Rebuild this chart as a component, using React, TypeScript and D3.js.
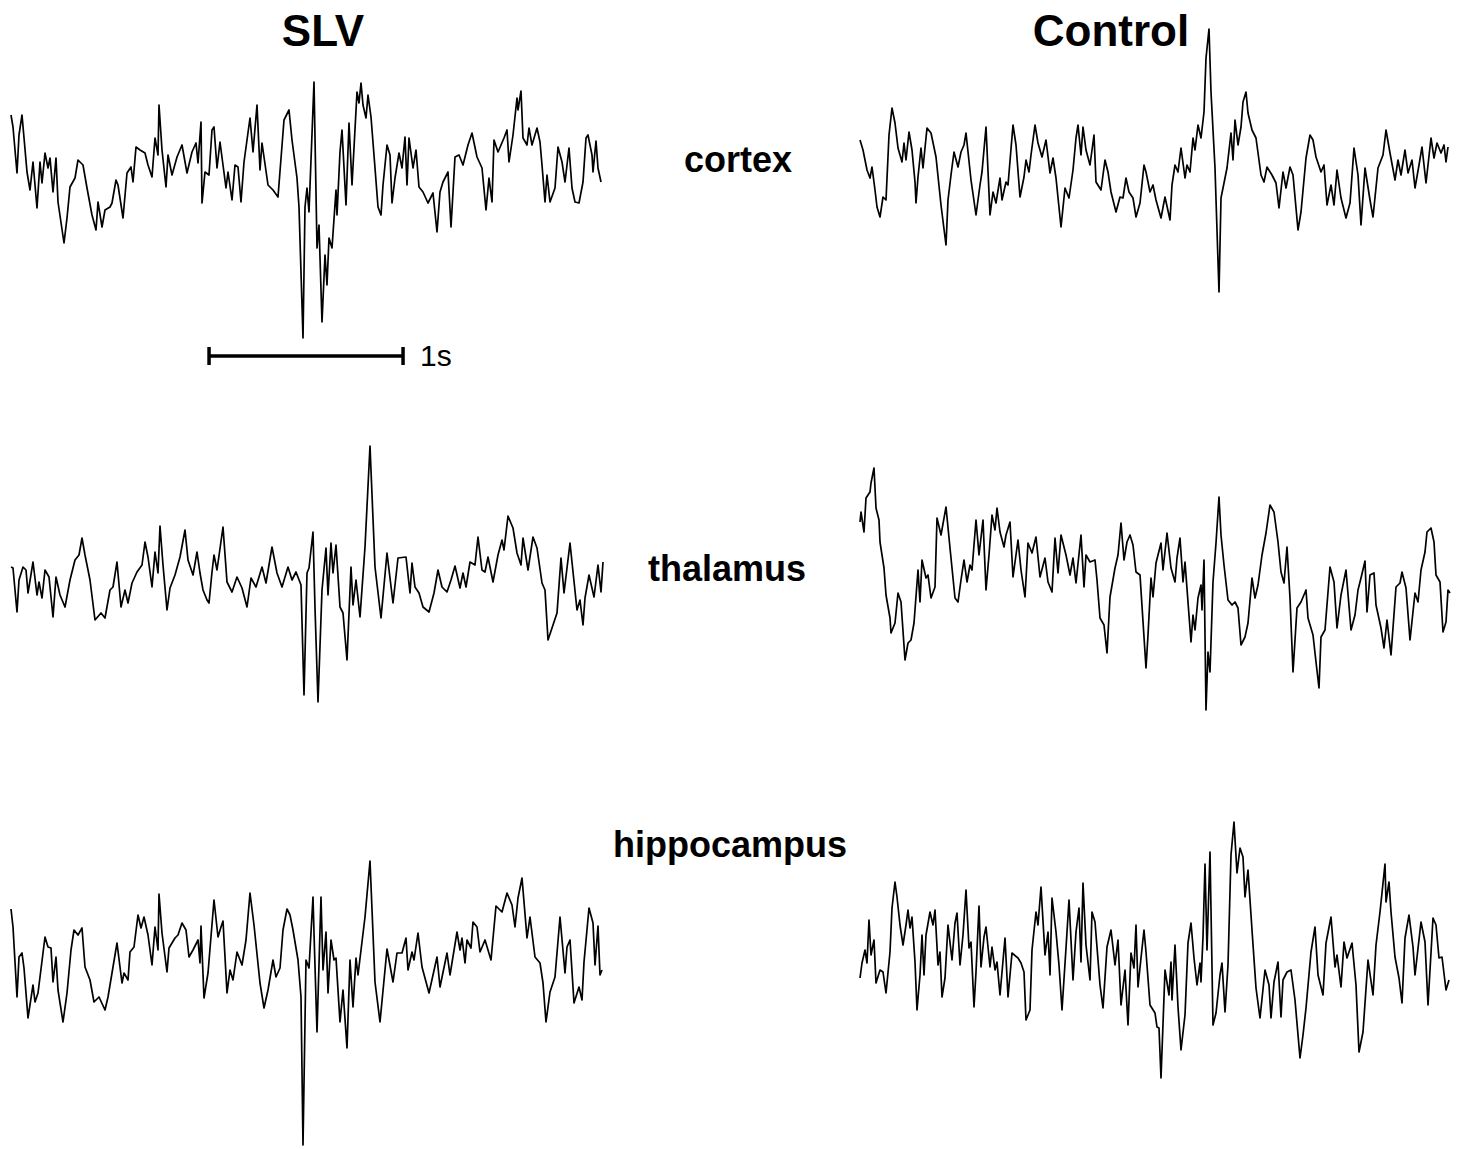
import React from 'react';
import * as d3 from 'd3';

// EEG traces, [sample, amplitude] pairs. 194 samples per second, amplitude in µV
const FS = 194;

const slvCortex: [number, number][] = [
  [1,55],[3,43],[7,-3],[9,35],[12,55],[17,-2],[20,-20],[23,8],[27,-38],[30,8],[32,-13],[35,17],[38,2],[40,12],[43,-22],[46,12],[48,-32],[54,-73],[57,-48],[60,-17],[65,-8],[68,10],[73,5],[77,-18],[82,-45],[86,-60],[88,-32],[92,-57],[95,-40],[100,-37],[102,-33],[106,-10],[108,-15],[113,-48],[117,-3],[121,3],[123,-12],[126,23],[130,20],[135,17],[138,5],[142,-7],[145,32],[148,15],[149,65],[152,20],[156,-17],[158,15],[162,-5],[167,13],[172,25],[177,-3],[182,18],[186,27],[188,7],[191,48],[192,-33],[195,-2],[199,-5],[202,40],[204,43],[207,2],[210,28],[216,-18],[218,-2],[222,-30],[225,5],[228,3],[231,-32],[234,8],[240,52],[243,18],[247,65],[250,0],[252,27],[258,-15],[263,-20],[268,-27],[274,50],[279,60],[282,30],[287,-8],[289,-37],[293,-168],[295,-37],[297,-18],[299,-42],[304,88],[307,-78],[309,-55],[312,-152],[315,-85],[317,-115],[319,-68],[322,-78],[326,-20],[327,-45],[330,18],[332,40],[336,-35],[339,47],[342,-15],[347,78],[349,67],[351,87],[353,65],[356,52],[358,75],[361,53],[365,2],[368,-37],[371,-45],[373,-15],[377,25],[380,15],[382,-33],[385,-8],[389,17],[392,2],[395,33],[397,-15],[399,32],[403,2],[406,20],[409,-17],[413,-22],[418,-33],[423,-23],[427,-62],[430,-22],[433,-12],[438,-2],[441,-57],[445,13],[449,15],[453,5],[458,25],[462,37],[467,13],[472,2],[476,-40],[479,-8],[482,-32],[484,30],[488,18],[494,32],[497,40],[499,8],[503,35],[507,72],[508,60],[511,79],[513,32],[517,25],[519,42],[522,25],[527,42],[530,28],[532,5],[535,-32],[537,-5],[540,-32],[545,-18],[548,23],[552,8],[555,-12],[559,22],[562,-18],[565,-32],[569,-33],[573,-12],[576,32],[578,35],[582,15],[583,-2],[586,29],[588,2],[591,-12],
];

const slvThalamus: [number, number][] = [
  [1,13],[3,12],[7,-32],[9,0],[13,13],[16,10],[18,-13],[23,18],[27,-15],[29,-2],[32,-18],[35,10],[39,3],[43,-37],[46,3],[50,-15],[55,-27],[60,0],[65,20],[69,25],[72,42],[75,25],[80,0],[85,-40],[91,-33],[95,-38],[100,-10],[103,-7],[107,18],[111,-27],[115,-10],[118,-23],[122,-3],[127,8],[132,15],[135,38],[138,23],[142,-7],[145,28],[148,7],[150,54],[153,15],[157,-30],[160,-8],[165,5],[170,23],[175,50],[178,20],[183,5],[187,28],[190,7],[193,-10],[197,-20],[199,-23],[202,8],[204,25],[207,10],[213,53],[217,-2],[222,-12],[227,3],[232,-8],[237,-27],[241,2],[246,-7],[252,13],[256,-3],[262,33],[267,7],[272,-7],[278,13],[282,0],[286,8],[291,-5],[294,-115],[297,7],[299,12],[303,48],[305,-28],[308,-122],[312,-10],[316,32],[318,-15],[321,37],[323,7],[326,35],[330,-27],[333,-33],[337,-80],[341,13],[343,-25],[346,0],[350,-37],[355,33],[360,134],[365,13],[371,-38],[377,27],[383,-23],[388,22],[396,23],[400,-13],[402,17],[405,-7],[409,-13],[413,-27],[419,-32],[424,-13],[428,10],[432,-7],[437,-12],[441,0],[445,14],[450,-8],[453,7],[456,-7],[460,18],[465,15],[468,43],[472,10],[475,8],[478,23],[483,-2],[488,25],[492,40],[494,30],[498,64],[503,52],[507,27],[511,15],[513,42],[518,10],[523,43],[527,32],[532,-3],[535,-10],[538,-60],[542,-48],[547,-33],[551,22],[554,-13],[560,37],[567,-30],[570,-20],[573,-45],[575,-18],[579,5],[584,-17],[588,15],[591,-12],[593,18],
];

const slvHippocampus: [number, number][] = [
  [1,51],[3,33],[7,-37],[9,3],[12,7],[14,-8],[18,-58],[23,-25],[25,-42],[28,-33],[30,-17],[35,23],[38,13],[41,12],[43,-22],[46,3],[48,-30],[53,-62],[57,-33],[61,10],[64,30],[68,25],[72,32],[75,-7],[80,-20],[84,-42],[89,-37],[95,-50],[98,-37],[103,-7],[107,17],[112,-23],[114,-13],[118,-20],[120,8],[124,13],[128,45],[131,32],[134,43],[138,25],[142,-5],[145,33],[148,10],[149,66],[152,27],[157,-12],[159,12],[165,22],[168,25],[172,37],[176,30],[179,3],[183,10],[188,20],[190,-3],[191,34],[194,-38],[198,-13],[204,60],[208,23],[211,33],[213,39],[217,-33],[220,-10],[223,-20],[227,8],[232,-5],[236,20],[240,67],[244,35],[250,-23],[254,-48],[258,-30],[263,0],[266,-17],[270,-8],[273,30],[277,51],[280,45],[283,30],[288,0],[291,-37],[293,-185],[296,0],[299,-8],[303,63],[304,27],[307,-72],[311,63],[313,-10],[316,28],[318,-33],[321,20],[324,0],[326,2],[330,-62],[333,-30],[337,-88],[340,0],[343,-47],[346,2],[348,-15],[355,43],[360,99],[365,-22],[370,-62],[377,11],[383,-22],[387,7],[392,7],[396,22],[398,-10],[402,8],[404,0],[408,27],[412,-7],[419,-33],[427,3],[430,-27],[437,7],[440,-15],[447,28],[450,10],[452,22],[455,-3],[457,20],[461,12],[463,38],[467,33],[470,8],[475,20],[481,0],[486,54],[492,48],[497,67],[502,55],[505,33],[508,62],[512,82],[517,22],[520,43],[525,3],[530,-3],[533,-23],[536,-62],[540,-32],[545,-17],[550,43],[555,-13],[557,13],[560,20],[564,-43],[569,-27],[572,-40],[574,-2],[579,52],[583,37],[585,-5],[588,34],[590,-15],[592,-10],
];

const controlCortex: [number, number][] = [
  [2,30],[5,20],[9,0],[12,-8],[14,3],[17,-20],[19,-37],[22,-47],[25,-27],[28,-30],[31,35],[34,62],[37,47],[40,22],[44,8],[46,27],[48,10],[51,38],[54,20],[57,-12],[58,-33],[60,-7],[63,22],[65,2],[69,42],[73,37],[78,13],[83,-35],[88,-75],[90,-30],[93,-5],[96,18],[100,3],[103,18],[106,25],[108,37],[113,-10],[118,-45],[122,-15],[124,-2],[128,43],[132,-45],[135,-22],[138,-33],[142,-8],[144,-30],[148,-12],[150,-15],[155,45],[158,25],[162,-27],[166,-7],[168,10],[171,-2],[173,15],[177,45],[180,27],[184,13],[188,30],[192,-3],[195,12],[198,-8],[203,-57],[207,-18],[211,-28],[215,0],[218,32],[220,45],[223,15],[225,43],[228,20],[232,5],[236,35],[238,-12],[243,-20],[247,10],[250,-2],[253,-22],[258,-42],[262,-27],[265,-28],[268,-8],[271,-22],[275,-28],[278,-47],[282,-33],[286,5],[288,-2],[292,-22],[295,-15],[298,-30],[303,-48],[307,-27],[312,-50],[314,-15],[317,5],[320,-2],[323,22],[327,-8],[329,5],[332,-2],[335,32],[337,20],[340,45],[343,32],[346,58],[348,112],[351,141],[353,78],[357,2],[361,-122],[363,-28],[367,-8],[369,2],[373,37],[375,10],[377,50],[380,25],[383,43],[385,68],[388,78],[390,57],[394,40],[398,32],[403,-5],[406,-12],[409,3],[414,-5],[418,-13],[421,-38],[425,-2],[428,-18],[432,3],[435,-5],[440,-60],[443,-42],[448,12],[452,35],[455,30],[458,13],[463,-2],[466,5],[469,-35],[473,-15],[476,-35],[479,0],[483,-28],[488,-48],[492,-33],[496,22],[500,-5],[503,-55],[507,2],[512,-30],[515,-47],[520,2],[525,15],[528,40],[532,17],[537,-10],[540,10],[543,-5],[547,20],[550,-3],[554,10],[557,-18],[561,5],[564,23],[568,-13],[573,32],[576,12],[579,27],[583,17],[586,25],[588,8],[590,23],
];

const controlThalamus: [number, number][] = [
  [2,58],[3,68],[6,48],[8,82],[12,88],[13,97],[16,112],[18,72],[21,60],[22,38],[26,12],[28,-15],[32,-38],[33,-53],[37,-43],[40,-13],[43,-22],[47,-80],[50,-63],[53,-60],[56,-43],[60,10],[62,-22],[64,20],[68,2],[70,5],[73,-18],[77,-7],[79,62],[83,45],[88,73],[92,32],[94,12],[97,-18],[100,-22],[103,0],[106,20],[109,-2],[112,15],[114,10],[118,60],[121,25],[125,60],[128,-10],[131,25],[134,65],[137,50],[139,72],[142,48],[146,33],[148,45],[152,58],[155,3],[160,40],[163,10],[167,-17],[170,37],[174,27],[178,43],[182,3],[187,22],[190,-2],[194,-12],[197,42],[200,7],[203,45],[208,25],[212,5],[215,22],[218,-3],[223,45],[226,-7],[228,25],[232,18],[237,20],[239,0],[242,-38],[246,-45],[249,-73],[252,-17],[257,12],[260,25],[263,57],[266,20],[269,38],[272,45],[275,35],[278,8],[282,5],[288,-88],[290,-55],[293,2],[295,-17],[298,17],[303,37],[305,10],[309,47],[313,12],[317,-2],[319,22],[322,42],[325,-2],[327,18],[333,-62],[335,-35],[337,-50],[340,-18],[343,-5],[344,-30],[346,20],[348,-130],[350,-72],[352,-92],[355,-2],[358,37],[361,83],[363,45],[366,15],[370,-20],[374,-25],[377,-22],[380,-28],[383,-65],[387,-57],[390,-43],[394,2],[397,-18],[400,-5],[404,25],[408,47],[412,75],[416,68],[420,38],[423,8],[426,-3],[429,33],[432,-18],[435,-92],[439,-28],[443,-22],[448,-10],[450,-38],[455,-55],[458,-82],[461,-108],[463,-57],[467,-50],[472,13],[476,-2],[479,-48],[483,-15],[488,10],[493,-50],[497,-35],[500,-10],[503,2],[507,19],[509,-32],[512,5],[516,7],[518,-25],[523,-48],[526,-68],[529,-40],[533,-75],[538,-7],[542,-3],[544,8],[548,-8],[552,-60],[557,-13],[560,-22],[563,10],[567,28],[569,48],[573,52],[576,38],[578,5],[582,-2],[585,-52],[588,-42],[590,-10],[592,-13],
];

const controlHippocampus: [number, number][] = [
  [2,-18],[4,-3],[7,10],[9,-3],[11,40],[13,5],[16,20],[18,-23],[22,-10],[25,-12],[28,-33],[32,8],[34,52],[37,78],[39,63],[42,35],[45,15],[48,35],[50,50],[52,32],[54,43],[57,-2],[59,-50],[62,-15],[64,25],[66,-15],[68,25],[72,48],[75,35],[77,50],[80,-5],[82,8],[84,-37],[87,-18],[90,35],[94,0],[97,37],[99,47],[102,-5],[105,25],[108,70],[111,12],[113,18],[116,-47],[118,-12],[121,54],[123,-7],[126,23],[128,33],[132,-7],[134,13],[137,-10],[139,-2],[142,-35],[147,22],[150,-37],[154,7],[160,2],[163,-3],[166,-12],[168,-60],[172,-50],[174,10],[178,48],[180,35],[183,73],[187,5],[190,28],[192,-15],[194,62],[198,28],[201,-5],[204,-50],[208,12],[211,60],[215,-20],[218,28],[221,52],[223,-2],[225,77],[228,15],[232,-20],[234,48],[237,38],[242,-25],[245,-48],[249,13],[253,30],[257,-5],[260,20],[263,-45],[267,-10],[270,-65],[273,7],[276,-8],[278,35],[280,-27],[283,2],[286,30],[288,8],[292,-45],[297,-53],[299,-67],[301,-68],[303,-118],[307,-10],[311,-35],[313,-2],[314,-40],[317,15],[320,-47],[323,-90],[327,-55],[330,17],[333,37],[336,2],[339,-25],[342,-3],[343,-22],[345,23],[347,96],[349,10],[352,108],[355,-65],[358,-53],[362,-15],[364,-3],[367,-52],[370,-5],[373,105],[376,138],[379,87],[382,112],[385,103],[387,63],[390,90],[394,30],[398,-28],[402,-58],[407,-10],[411,-25],[413,-58],[416,-22],[420,-2],[423,-57],[425,-20],[429,-12],[433,-10],[437,-40],[442,-98],[445,-75],[448,-48],[453,8],[457,33],[460,-15],[465,-35],[468,17],[473,43],[477,-7],[479,5],[483,-27],[486,18],[489,2],[494,17],[498,-25],[501,-92],[505,-72],[510,0],[515,-35],[518,15],[522,48],[527,96],[528,58],[531,78],[533,48],[537,3],[541,-18],[544,-43],[547,22],[551,45],[555,13],[557,-15],[563,38],[567,18],[570,-45],[575,42],[578,35],[581,2],[584,3],[588,-30],[591,-20],
];

const conditions = ['SLV', 'Control'];
const regions = ['cortex', 'thalamus', 'hippocampus'];
const traces = [
  [slvCortex, slvThalamus, slvHippocampus],
  [controlCortex, controlThalamus, controlHippocampus],
];
const scaleBarSeconds = 1;
const scaleBarStart = 1.026; // s, on the SLV time axis

const W = 1458;
const H = 1149;
const colLeft = [10, 858];
const colTitleX = [323, 1111];
const rowBase = [170, 580, 960];
const regionLabelX = [738, 727, 730];
const regionLabelY = [172, 581, 857];
const font = '"Liberation Sans", Arial, sans-serif';

const App: React.FC = () => {
  const duration = 600 / FS;
  const amp = 200;

  return (
    <svg width={W} height={H} style={{ position: 'absolute', left: 0, top: 0, background: '#fff' }}>
      <rect width={W} height={H} fill="#fff" />
      {conditions.map((c, i) => (
        <text key={c} x={colTitleX[i]} y={46} textAnchor="middle" fontFamily={font}
          fontWeight="bold" fontSize={44} fill="#000">{c}</text>
      ))}
      {regions.map((r, j) => (
        <text key={r} x={regionLabelX[j]} y={regionLabelY[j]} textAnchor="middle" fontFamily={font}
          fontWeight="bold" fontSize={36} fill="#000">{r}</text>
      ))}
      {traces.map((col, i) => {
        const x = d3.scaleLinear().domain([0, duration]).range([colLeft[i], colLeft[i] + 600]);
        return col.map((data, j) => {
          const y = d3.scaleLinear().domain([-amp, amp]).range([rowBase[j] + amp, rowBase[j] - amp]);
          const line = d3.line<[number, number]>()
            .x(d => x(d[0] / FS))
            .y(d => y(d[1]));
          return (
            <path key={`${i}-${j}`} d={line(data) || ''} fill="none" stroke="#000"
              strokeWidth={1.7} strokeLinejoin="round" />
          );
        });
      })}
      {(() => {
        const x = d3.scaleLinear().domain([0, duration]).range([colLeft[0], colLeft[0] + 600]);
        const x1 = x(scaleBarStart);
        const x2 = x(scaleBarStart + scaleBarSeconds);
        const yb = 356;
        return (
          <g stroke="#000" strokeWidth={3.5}>
            <line x1={x1} x2={x2} y1={yb} y2={yb} />
            <line x1={x1} x2={x1} y1={yb - 9} y2={yb + 9} />
            <line x1={x2} x2={x2} y1={yb - 9} y2={yb + 9} />
            <text x={x2 + 17} y={366} fontFamily={font} fontSize={30} stroke="none" fill="#000">1s</text>
          </g>
        );
      })()}
    </svg>
  );
};

export default App;
